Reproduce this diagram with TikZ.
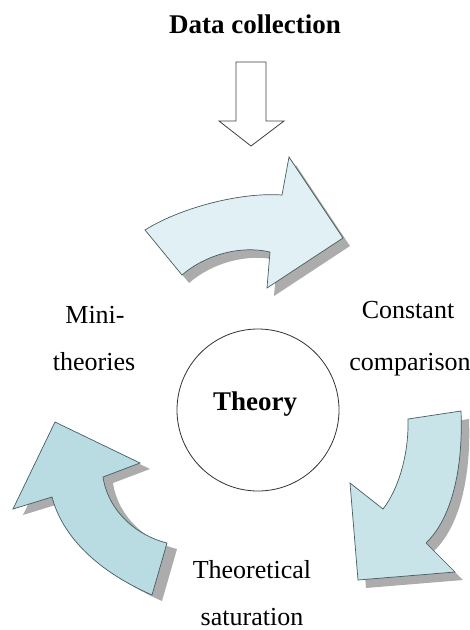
\documentclass[tikz,border=0pt]{standalone}
\usepackage{fontspec}
\setmainfont{Liberation Serif}
\usepackage{tikz}
\usetikzlibrary{positioning}
\definecolor{arrowLine}{RGB}{70,92,96}
\definecolor{fillTop}{RGB}{224,240,244}
\definecolor{fillRight}{RGB}{200,228,233}
\definecolor{fillLeft}{RGB}{184,220,226}
\definecolor{shadowGrey}{RGB}{172,172,172}
\tikzset{
  lbl/.style={anchor=base, inner sep=0pt, font=\fontsize{26}{30}\selectfont},
  boldlbl/.style={anchor=base, inner sep=0pt, font=\fontsize{27}{32}\selectfont\bfseries},
  cyclearr/.style={draw=arrowLine, line width=0.7pt, line join=miter},
  hollowarr/.style={draw=black!75, line width=0.8pt, fill=white},
}
\newcommand{\shadedarrow}[3]{%
  \fill[shadowGrey, shift={#2}] #3;
  \filldraw[cyclearr, fill=#1] #3;
}

\begin{document}
\begin{tikzpicture}[x=1pt, y=-1pt]
  \useasboundingbox (0,0) rectangle (470,630);
  % title and the hollow arrow under it
  \node[boldlbl] (data) at (255,33) {Data collection};
  \draw[hollowarr] (236,62) -- (266,62) -- (266,121) -- (284,121)
    -- (251,146) -- (219,121) -- (236,121) -- cycle;
  % three curved arrows round the circle
  \shadedarrow{fillTop}{(7,8)}{(145,230) .. controls (180,208) and (240,192) .. (282,195)
    -- (289,157) -- (343,238) -- (267,288) -- (270,252)
    .. controls (240,245) and (205,255) .. (182,275) -- cycle}
  \shadedarrow{fillRight}{(8,8)}{(408,419) -- (461,411)
    .. controls (463,460) and (455,515) .. (426,543)
    -- (455,572) -- (358,580) -- (350,483) -- (383,509)
    .. controls (398,490) and (409,455) .. (408,419) -- cycle}
  \shadedarrow{fillLeft}{(10,6)}{(55,422) -- (140,463) -- (103,477)
    .. controls (108,510) and (135,535) .. (167,543)
    -- (152,595) .. controls (95,570) and (62,535) .. (52,497)
    -- (13,509) -- cycle}
  % centre
  \draw[line width=0.8pt, black!80] (258,410) circle (81);
  \node[boldlbl] (theory) at (255,410) {Theory};
  % stage labels
  \node[lbl] (mini1) at (95,323) {Mini-};
  \node[lbl] (mini2) at (94,370) {theories};
  \node[lbl] (const1) at (408,318) {Constant};
  \node[lbl] (const2) at (410,370) {comparison};
  \node[lbl] (sat1) at (252,578) {Theoretical};
  \node[lbl] (sat2) at (252,625) {saturation};
\end{tikzpicture}
\end{document}
